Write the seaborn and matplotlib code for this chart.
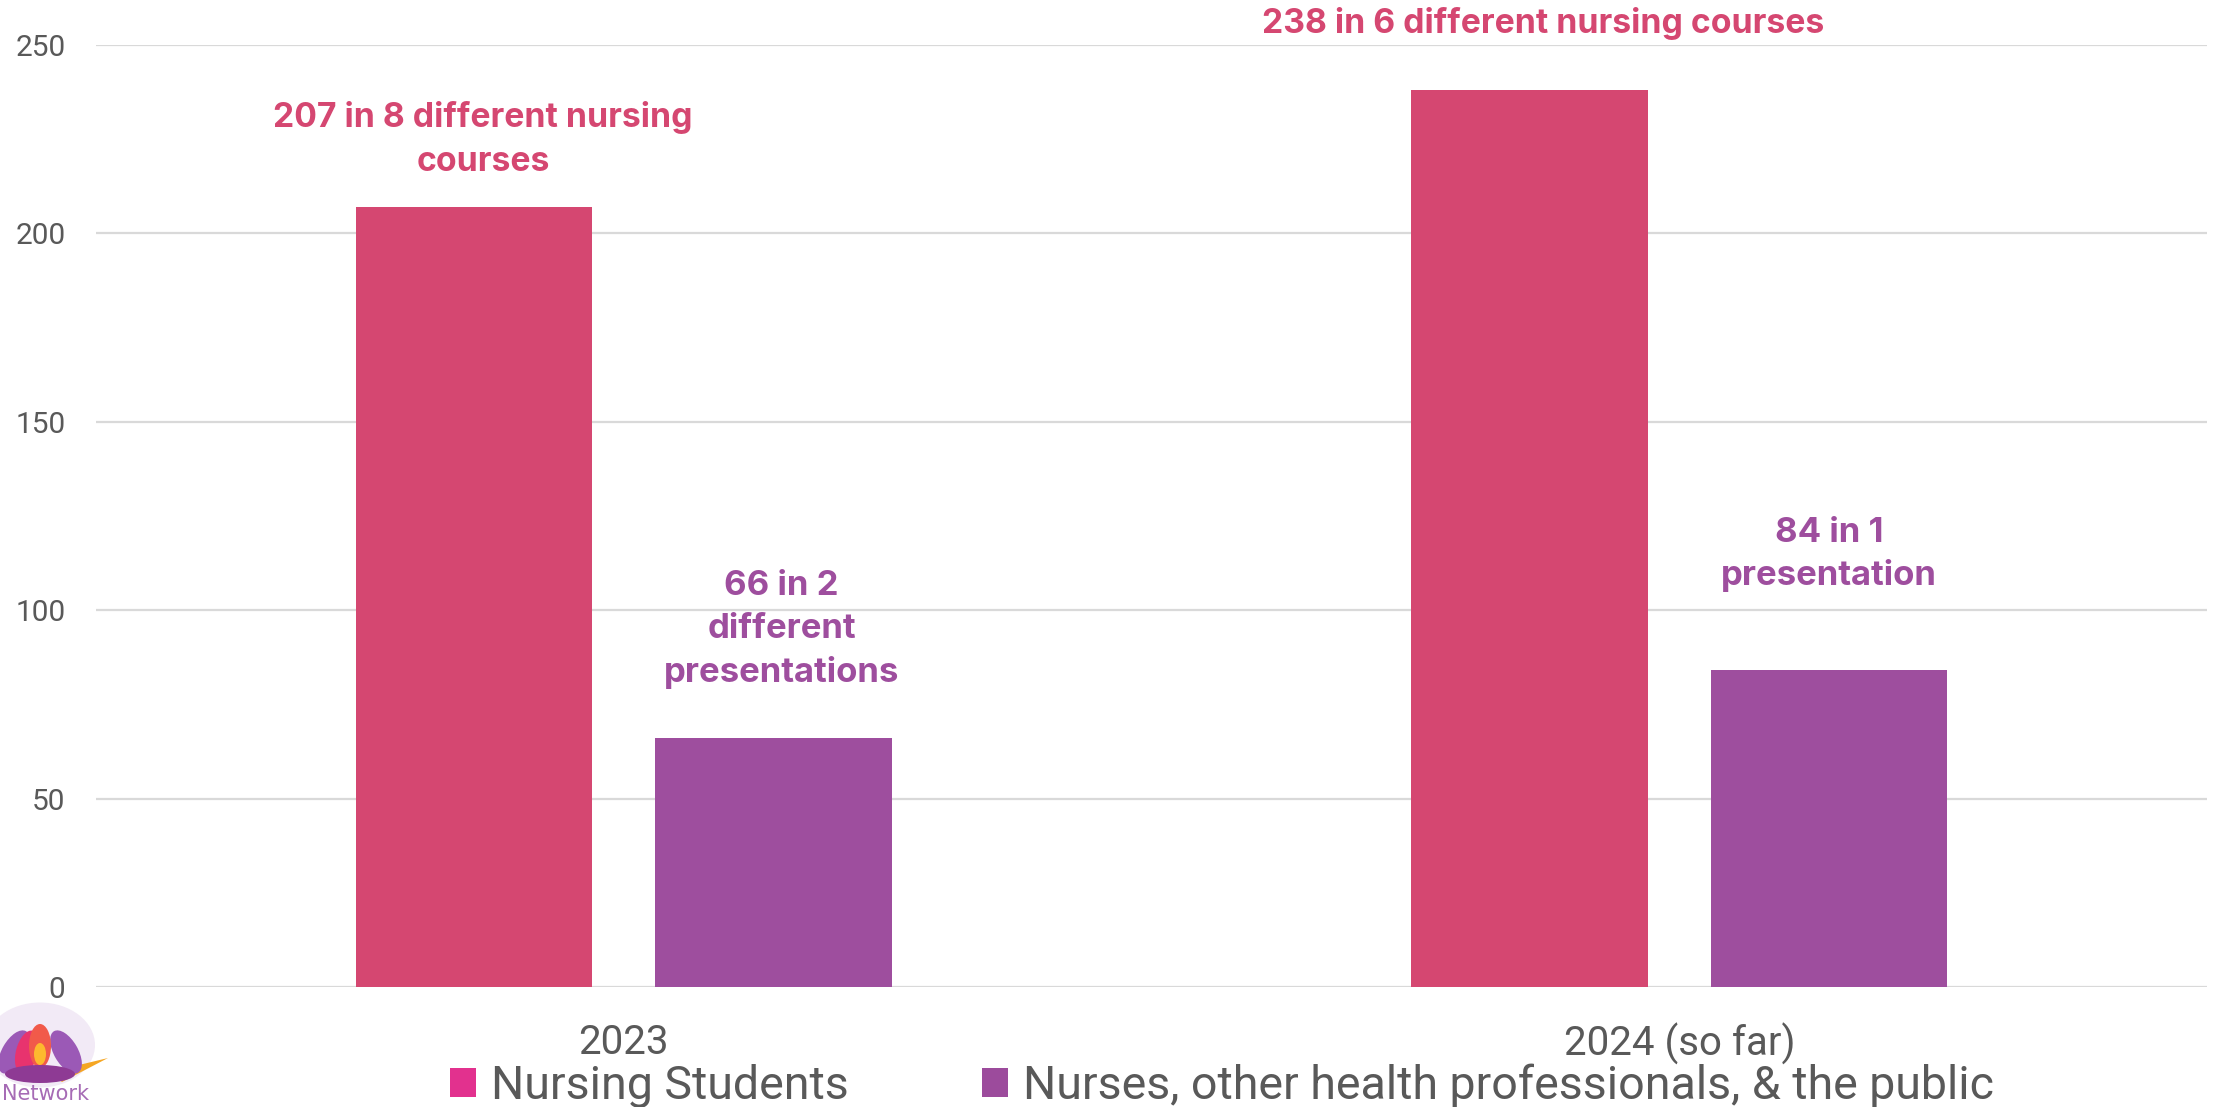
import matplotlib
matplotlib.use("Agg")
import matplotlib.pyplot as plt
from matplotlib import font_manager
from matplotlib.patches import Patch, Ellipse, Polygon
import seaborn as sns
import pandas as pd

# ---- data ----
categories = ["2023", "2024 (so far)"]
series_names = ["Nursing Students", "Nurses, other health professionals, & the public"]
nursing_students = [207, 238]
nurses_public = [66, 84]
labels_students = ["207 in 8 different nursing\ncourses", "238 in 6 different nursing courses"]
labels_public = ["66 in 2\ndifferent\npresentations", "84 in 1\npresentation"]
y_ticks = [0, 50, 100, 150, 200, 250]

bar_colors = ["#D54771", "#9E4E9E"]
legend_colors = ["#E2318E", "#9C4B9C"]
text_gray = "#595959"
grid_gray = "#D9D9D9"

names = {f.name for f in font_manager.fontManager.ttflist}
base = "Roboto" if "Roboto" in names else "DejaVu Sans"
inter = "Inter" if "Inter" in names else base

df = pd.DataFrame({
    "year": categories * 2,
    "group": [series_names[0]] * 2 + [series_names[1]] * 2,
    "value": nursing_students + nurses_public,
})

sns.set_theme(style="white")
plt.rcParams["font.family"] = [base, "DejaVu Sans"]

fig = plt.figure(figsize=(22.18, 11.07), dpi=100)
ax = fig.add_axes([96 / 2218, 1 - 987 / 1107, 2111 / 2218, 942 / 1107])

sns.barplot(data=df, x="year", y="value", hue="group", order=categories,
            hue_order=series_names, palette=bar_colors, width=0.568, gap=0.211,
            saturation=1, legend=False, ax=ax, linewidth=0)

ax.set_ylim(0, 250)
ax.set_xlim(-0.5, 1.5)
ax.set_yticks(y_ticks)
ax.set_yticklabels([str(t) for t in y_ticks], fontsize=21.5, color=text_gray)
ax.tick_params(axis="y", length=0, pad=22)
ax.tick_params(axis="x", length=0, labelsize=29, labelcolor=text_gray, pad=26)
ax.set_xlabel("")
ax.set_ylabel("")
for s in ax.spines.values():
    s.set_visible(False)
ax.yaxis.grid(True, color=grid_gray, linewidth=1.6)
ax.set_axisbelow(True)

# annotations: offsets in pixels (dx, dy up) from bar top-centre
bars = list(ax.patches)
stud_bars = bars[:2]
pub_bars = bars[2:4]
off_students = [(9, 68), (14, 67)]
off_public = [(8, 109), (0, 116)]
for b, lab, (dx, dy) in zip(stud_bars, labels_students, off_students):
    ax.annotate(lab, (b.get_x() + b.get_width() / 2, b.get_height()),
                xytext=(dx * 0.72, dy * 0.72), textcoords="offset points",
                ha="center", va="center", fontsize=24.3, fontweight="bold",
                color=bar_colors[0], family=[inter, "DejaVu Sans"],
                linespacing=1.48, annotation_clip=False)
for b, lab, (dx, dy) in zip(pub_bars, labels_public, off_public):
    ax.annotate(lab, (b.get_x() + b.get_width() / 2, b.get_height()),
                xytext=(dx * 0.72, dy * 0.72), textcoords="offset points",
                ha="center", va="center", fontsize=25, fontweight="bold",
                color=bar_colors[1], family=[inter, "DejaVu Sans"],
                linespacing=1.42, annotation_clip=False)

handles = [Patch(facecolor=c, edgecolor="none") for c in legend_colors]
fig.legend(handles, series_names, loc="center", bbox_to_anchor=(1222 / 2218, 21 / 1107),
           ncol=2, frameon=False, fontsize=33.5, labelcolor=text_gray,
           handlelength=0.57, handleheight=0.57, handletextpad=0.32,
           columnspacing=2.85, borderpad=0)

# simplified logo (bottom-left)
la = fig.add_axes([0, 0, 180 / 2218, 107 / 1107])
la.set_xlim(0, 180)
la.set_ylim(107, 0)
la.axis("off")
la.add_patch(Ellipse((40, 45), 110, 85, color="#EADCF0", alpha=0.6, lw=0))
la.add_patch(Polygon([[50, 72], [108, 58], [62, 82]], color="#F5A623", lw=0))
for cx, ang in [(14, 30), (66, -30)]:
    la.add_patch(Ellipse((cx, 52), 24, 48, angle=ang, color="#9B59B6", lw=0))
la.add_patch(Ellipse((27, 52), 22, 44, angle=15, color="#E8336E", lw=0))
la.add_patch(Ellipse((40, 46), 22, 44, color="#F15A4A", lw=0))
la.add_patch(Ellipse((40, 54), 12, 22, color="#FDB92E", lw=0))
la.add_patch(Ellipse((40, 74), 70, 18, color="#8E3A94", lw=0))
la.text(2, 104, "Network", fontsize=15, color="#A66BB5", family="DejaVu Sans",
        va="bottom", ha="left")

fig.savefig("out.png", dpi=100)
